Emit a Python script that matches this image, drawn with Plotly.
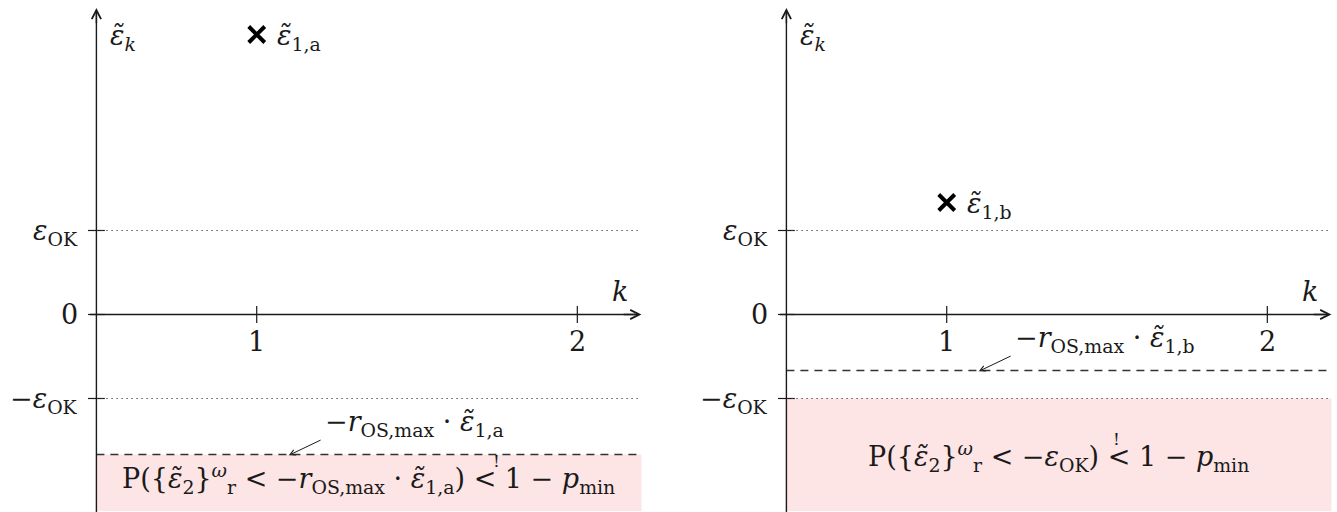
import plotly.graph_objects as go

# Tolerance band and first-step errors for the two cases (normalised units)
EPS_OK = 0.3
R_OS_MAX = 0.5
EPS1 = [1.0, 0.4]
CASES = ["a", "b"]
K_TICKS = [1, 2]
K_TICK_TEXT = ["1", "2"]
Y_TICKS = [EPS_OK, 0.0, -EPS_OK]
Y_TICK_TEXT = ["<i>ε</i><sub>OK</sub>", "0", "−<i>ε</i><sub>OK</sub>"]

# Axis geometry
K_AXIS = 0.5          # k where the vertical axis is drawn
K_END = 2.2           # end of the k arrow
Y_TOP = 1.095         # tip of the vertical arrow
Y_MIN, Y_MAX = -0.7054, 1.1232
X_MIN, X_MAX = 0.1993, 2.2111

FONT = "DejaVu Serif"
FS = 27
INK = "#1a1a1a"
PINK = "#fde4e5"

# pixel offsets of the condition text and of the "!" over its second "<"
COND_YSHIFT = [5, -1]
BANG_XSHIFT = [128, 58]

fig = go.Figure()
shapes = []
annotations = []


def tilde_eps(sub):
    return f"<i>ε\u0303</i><sub>{sub}</sub>"


def txt(xr, yr, x, y, text, size=FS, **kw):
    annotations.append(dict(xref=xr, yref=yr, x=x, y=y, text=text, showarrow=False,
                            font=dict(family=FONT, size=size, color=INK), **kw))


def panel(i, eps1, case):
    xr = "x" if i == 0 else "x2"
    yr = "y" if i == 0 else "y2"
    bound = -R_OS_MAX * eps1          # overshoot bound after step 1
    region_top = min(bound, -EPS_OK)  # critical region for step 2

    # critical region
    shapes.append(dict(type="rect", xref=xr, yref=yr, x0=K_AXIS, x1=K_END,
                       y0=Y_MIN + 0.004, y1=region_top, fillcolor=PINK,
                       line=dict(width=0), layer="below"))
    # ±eps_OK levels
    for lvl in (EPS_OK, -EPS_OK):
        shapes.append(dict(type="line", xref=xr, yref=yr, x0=K_AXIS, x1=K_END - 0.01,
                           y0=lvl, y1=lvl,
                           line=dict(color="#444444", width=1.2, dash="1.3px,3.7px")))
    # overshoot bound
    shapes.append(dict(type="line", xref=xr, yref=yr, x0=K_AXIS, x1=K_END - 0.01,
                       y0=bound, y1=bound,
                       line=dict(color="#333333", width=1.3, dash="8px,6px")))
    # axis lines (arrow heads added as annotations)
    shapes.append(dict(type="line", xref=xr, yref=yr, x0=K_AXIS, x1=K_AXIS,
                       y0=Y_MIN - 0.05, y1=Y_TOP - 0.02,
                       line=dict(color=INK, width=1.4)))
    shapes.append(dict(type="line", xref=xr, yref=yr, x0=K_AXIS - 0.02, x1=K_END - 0.02,
                       y0=0, y1=0, line=dict(color=INK, width=1.4)))

    annotations.append(dict(xref=xr, yref=yr, axref=xr, ayref=yr,
                            x=K_AXIS, y=Y_TOP, ax=K_AXIS, ay=Y_TOP - 0.06,
                            showarrow=True, arrowhead=5, arrowsize=1.3,
                            arrowwidth=1.4, arrowcolor=INK, text=""))
    annotations.append(dict(xref=xr, yref=yr, axref=xr, ayref=yr,
                            x=K_END, y=0, ax=K_END - 0.06, ay=0,
                            showarrow=True, arrowhead=5, arrowsize=1.3,
                            arrowwidth=1.4, arrowcolor=INK, text=""))

    # tick marks
    fig.add_trace(go.Scatter(x=K_TICKS, y=[0] * len(K_TICKS), mode="markers",
                             marker=dict(symbol="line-ns", size=12,
                                         line=dict(color=INK, width=1.2)),
                             xaxis=xr, yaxis=yr, showlegend=False, hoverinfo="skip"))
    fig.add_trace(go.Scatter(x=[K_AXIS] * len(Y_TICKS), y=Y_TICKS, mode="markers",
                             marker=dict(symbol="line-ew", size=12,
                                         line=dict(color=INK, width=1.2)),
                             xaxis=xr, yaxis=yr, showlegend=False, hoverinfo="skip"))

    # tick labels
    for k, t in zip(K_TICKS, K_TICK_TEXT):
        txt(xr, yr, k, 0, t, yanchor="top", yshift=-10)
    for v, t in zip(Y_TICKS, Y_TICK_TEXT):
        txt(xr, yr, K_AXIS, v, t, xanchor="right", xshift=-16,
            yshift=-2 if t != "0" else 0)

    # axis names
    txt(xr, yr, K_AXIS, 0.99, tilde_eps("<i>k</i>"), xanchor="left", xshift=12)
    txt(xr, yr, K_END, 0, "<i>k</i>", xanchor="center", yanchor="bottom",
        xshift=-21, yshift=5)

    # first-step error
    fig.add_trace(go.Scatter(x=[1], y=[eps1], mode="markers",
                             marker=dict(symbol="x-thin", size=16,
                                         line=dict(color="black", width=4)),
                             xaxis=xr, yaxis=yr, showlegend=False, hoverinfo="skip"))
    txt(xr, yr, 1, eps1, tilde_eps(f"1,{case}"), xanchor="left", xshift=18, yshift=-3)

    # label of the overshoot bound with pointer
    tail_k, tail_y = 1.204, bound + 0.054
    annotations.append(dict(xref=xr, yref=yr, axref=xr, ayref=yr,
                            x=1.1, y=bound - 0.003, ax=tail_k, ay=tail_y,
                            showarrow=True, arrowhead=5, arrowsize=1.1,
                            arrowwidth=1, arrowcolor=INK, text=""))
    txt(xr, yr, tail_k, tail_y,
        "−<i>r</i><sub>OS,max</sub> · " + tilde_eps(f"1,{case}"),
        xanchor="left", yanchor="bottom", xshift=1, yshift=-4)

    # probability condition inside the critical region
    if bound < -EPS_OK:
        rhs = "−<i>r</i><sub>OS,max</sub> · " + tilde_eps(f"1,{case}")
    else:
        rhs = "−<i>ε</i><sub>OK</sub>"
    cond = ("P({" + tilde_eps("2") + "}<sup><i>ω</i></sup><sub>r</sub> &lt; " + rhs +
            ") &lt; 1 − <i>p</i><sub>min</sub>")
    xc = (K_AXIS + K_END) / 2
    yc = (Y_MIN + region_top) / 2
    txt(xr, yr, xc, yc, cond, yshift=COND_YSHIFT[i])
    txt(xr, yr, xc, yc, "!", size=17, yanchor="bottom",
        xshift=BANG_XSHIFT[i], yshift=COND_YSHIFT[i] + 5)


for i, (e, c) in enumerate(zip(EPS1, CASES)):
    panel(i, e, c)

axis_common = dict(visible=False, showgrid=False, zeroline=False, fixedrange=True)
fig.update_layout(
    width=1337, height=512,
    margin=dict(l=0, r=0, t=0, b=0),
    paper_bgcolor="white", plot_bgcolor="white",
    showlegend=False,
    xaxis=dict(domain=[0, 645 / 1337], range=[X_MIN, X_MAX], anchor="y", **axis_common),
    yaxis=dict(domain=[0, 1], range=[Y_MIN, Y_MAX], anchor="x", **axis_common),
    xaxis2=dict(domain=[690 / 1337, 1335 / 1337], range=[X_MIN, X_MAX], anchor="y2",
                **axis_common),
    yaxis2=dict(domain=[0, 1], range=[Y_MIN, Y_MAX], anchor="x2", **axis_common),
    shapes=shapes,
    annotations=annotations,
)

fig.write_html("out.html", config={"displayModeBar": False})
